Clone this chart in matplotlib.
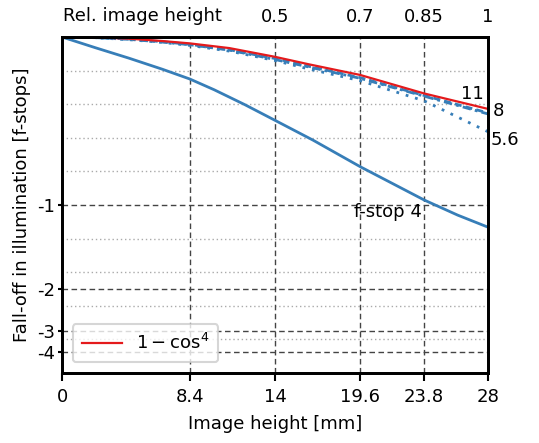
import numpy as np
import matplotlib
matplotlib.use("Agg")
import matplotlib.pyplot as plt

# image height in mm and relative illumination
x_mm = [0, 2.2, 4.4, 6.6, 8.4, 11.0, 14.0, 16.2, 19.6, 23.8, 28.0]
cos4 = [1.0, 0.999, 0.995, 0.988, 0.981, 0.967, 0.941, 0.919, 0.887, 0.832, 0.786]
fstop11 = [1.0, 0.998, 0.994, 0.986, 0.978, 0.962, 0.936, 0.913, 0.879, 0.826, 0.774]
fstop8 = [1.0, 0.998, 0.993, 0.985, 0.977, 0.961, 0.933, 0.911, 0.877, 0.824, 0.771]
fstop56 = [1.0, 0.998, 0.992, 0.984, 0.975, 0.958, 0.930, 0.905, 0.870, 0.810, 0.718]

x4_mm = [0, 2.2, 4.4, 6.6, 8.4, 10, 12, 14, 16.5, 19.6, 21, 23.8, 26, 28]
fstop4 = [1.0, 0.968, 0.937, 0.904, 0.875, 0.843, 0.799, 0.752, 0.693,
          0.614, 0.581, 0.515, 0.470, 0.434]

x_ticks = [0, 8.4, 14, 19.6, 23.8, 28]
rel_ticks = [14, 19.6, 23.8, 28]
rel_labels = ["0.5", "0.7", "0.85", "1"]
stop_vals = [0.5, 0.25, 0.125, 0.0625]
stop_labels = ["-1", "-2", "-3", "-4"]
minor_vals = [0.1, 0.2, 0.3, 0.4, 0.6, 0.7, 0.8, 0.9]

red = "#e41a1c"
blue = "#377eb8"
fs = 13

fig = plt.figure(figsize=(5.39, 4.43), dpi=100)
ax = fig.add_axes([62/539, 1-373/443, (488-62)/539, (373-37)/443])

# grid lines
for v in minor_vals:
    ax.axhline(v, color="#aaaaaa", lw=1, ls=(0, (1, 2)), zorder=1)
for v in stop_vals:
    ax.axhline(v, color="#444444", lw=1, ls=(0, (4, 2.5)), zorder=1)
for v in x_ticks[1:-1]:
    ax.axvline(v, color="#444444", lw=1, ls=(0, (4, 2.5)), zorder=1)

ax.plot(x4_mm, fstop4, color=blue, lw=2)
ax.plot(x_mm, fstop56, color=blue, lw=2, ls=(0, (1, 2.5)))
ax.plot(x_mm, fstop8, color=blue, lw=2, ls=(0, (3, 1.5, 1, 1.5)))
ax.plot(x_mm, fstop11, color=blue, lw=2, ls=(0, (2.5, 1.5)))
ax.plot(x_mm, cos4, color=red, lw=1.6, label=r"$1-\cos^4$")

ax.text(27.7, 0.805, "11", fontsize=fs, ha="right", va="bottom")
ax.text(28.3, 0.78, "8", fontsize=fs, ha="left", va="center")
ax.text(28.2, 0.72, "5.6", fontsize=fs, ha="left", va="top")
ax.text(21.4, 0.505, "f-stop 4", fontsize=fs, ha="center", va="top")

ax.set_xlim(0, 28)
ax.set_ylim(0, 1)
ax.set_xticks(x_ticks)
ax.set_xticklabels(["0", "8.4", "14", "19.6", "23.8", "28"], fontsize=fs)
ax.set_yticks(stop_vals)
ax.set_yticklabels(stop_labels, fontsize=fs)
ax.tick_params(axis="x", length=6, width=1.5, pad=5)
ax.tick_params(axis="y", length=3, width=1.5, pad=2)
ax.set_xlabel("Image height [mm]", fontsize=fs, labelpad=6)
ax.set_ylabel("Fall-off in illumination [f-stops]", fontsize=fs, labelpad=4)
for s in ax.spines.values():
    s.set_linewidth(2)

leg = ax.legend(loc="lower left", fontsize=fs, frameon=True, fancybox=True,
                borderaxespad=0.6, handlelength=2.2, borderpad=0.5)
leg.get_frame().set_edgecolor("#cccccc")
leg.get_frame().set_linewidth(1.5)

ax2 = ax.twiny()
ax2.set_xlim(ax.get_xlim())
ax2.set_xticks(rel_ticks)
ax2.set_xticklabels(rel_labels, fontsize=fs)
ax2.tick_params(axis="x", length=0, pad=8)
for s in ax2.spines.values():
    s.set_linewidth(2)
fig.text(142/539, 1-16/443, "Rel. image height", fontsize=fs, ha="center", va="center")

fig.savefig("out.png", dpi=100)
